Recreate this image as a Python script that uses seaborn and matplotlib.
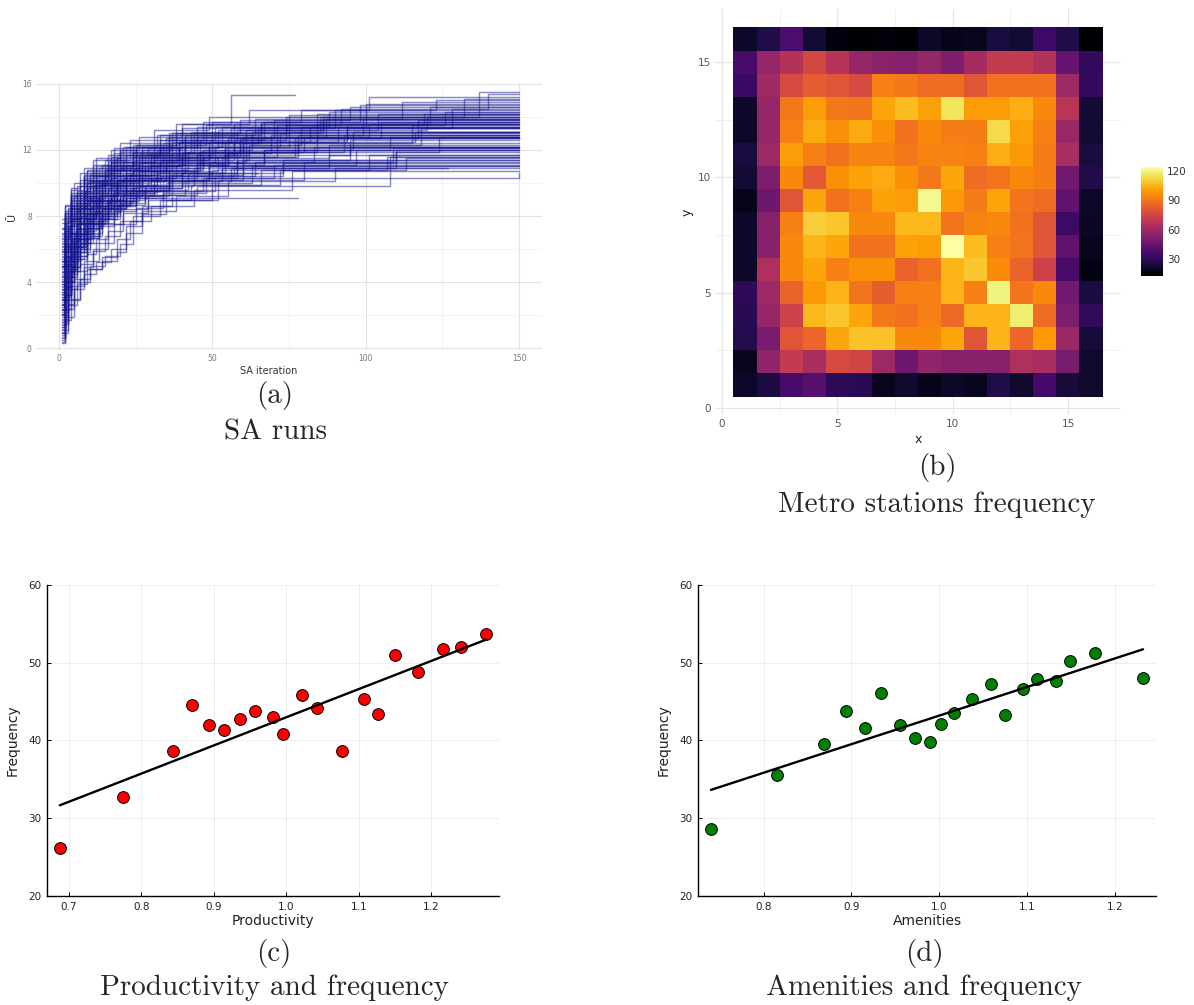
import numpy as np
import pandas as pd
import matplotlib
matplotlib.use("Agg")
import matplotlib.pyplot as plt
import seaborn as sns

# ---------------- data ----------------
# (a) SA runs: best-so-far utility, step points (iteration, value); last point = end of run
sa_runs = [
    [[1,0.5],[2,2.8],[3,4.6],[5,6.2],[8,7.9],[14,9.4],[22,10.6],[41,11.8],[78,12.9],[150,12.9]],
    [[1,2.1],[2,4.0],[4,5.9],[6,7.3],[11,8.8],[19,10.1],[33,11.2],[60,12.4],[115,13.5],[150,13.5]],
    [[1,3.4],[2,5.2],[3,6.6],[7,8.1],[12,9.7],[25,10.9],[47,12.0],[96,13.1],[150,13.1]],
    [[1,1.2],[2,3.1],[4,4.9],[7,6.4],[10,7.6],[16,8.9],[24,9.8],[44,10.9],[88,11.7],[150,11.7]],
    [[1,4.6],[2,6.3],[4,7.9],[8,9.5],[15,10.8],[29,12.1],[52,13.2],[104,14.2],[150,14.2]],
    [[1,2.7],[2,4.4],[3,5.6],[5,6.9],[9,8.2],[18,9.5],[30,10.3],[58,11.2],[150,11.2]],
    [[1,5.8],[2,7.1],[4,8.6],[9,10.1],[16,11.3],[31,12.4],[66,13.6],[121,14.6],[150,14.6]],
    [[1,0.9],[2,2.3],[3,3.8],[5,5.4],[8,6.8],[13,8.0],[20,9.1],[35,10.0],[63,11.0],[150,11.0]],
    [[1,3.9],[2,5.6],[3,6.8],[6,8.3],[13,9.9],[23,11.0],[39,12.2],[72,13.0],[150,13.0]],
    [[1,6.4],[2,7.8],[5,9.2],[10,10.6],[20,11.9],[43,13.1],[85,14.0],[132,15.1],[150,15.1]],
    [[1,2.4],[2,3.7],[3,5.1],[6,6.6],[11,8.0],[17,9.2],[27,10.2],[49,11.0],[70,11.0]],
    [[1,4.2],[2,5.9],[4,7.2],[7,8.7],[14,10.2],[26,11.5],[55,12.7],[150,12.7]],
    [[1,1.6],[2,3.3],[4,5.0],[6,6.3],[9,7.5],[15,8.6],[23,9.5],[37,10.4],[64,11.3],[109,12.1],[150,12.1]],
    [[1,7.2],[2,8.3],[4,9.6],[8,10.9],[18,12.1],[40,13.3],[90,14.4],[150,14.4]],
    [[1,3.0],[2,4.8],[4,6.5],[7,7.9],[12,9.0],[21,10.3],[34,11.4],[57,12.5],[84,13.6],[150,13.6]],
    [[1,5.1],[2,6.7],[3,7.7],[6,9.0],[12,10.4],[24,11.6],[45,12.8],[150,12.8]],
    [[1,0.3],[2,1.9],[3,3.5],[4,4.8],[6,6.0],[9,7.3],[14,8.5],[22,9.6],[36,10.5],[60,11.4],[150,11.4]],
    [[1,2.9],[2,4.5],[3,5.8],[6,7.6],[10,8.9],[18,10.0],[30,11.1],[55,11.8],[58,11.8]],
    [[1,4.9],[2,6.1],[4,7.5],[8,9.1],[15,10.5],[28,11.7],[50,12.9],[99,13.9],[150,13.9]],
    [[1,6.9],[2,8.0],[4,9.3],[9,10.7],[20,12.0],[37,13.0],[75,14.1],[150,14.1]],
    [[1,1.9],[2,3.6],[3,4.7],[5,6.1],[8,7.4],[14,8.4],[21,9.3],[26,9.3]],
    [[1,3.6],[2,5.3],[4,6.9],[7,8.4],[11,9.6],[22,10.8],[42,11.9],[80,12.8],[150,12.8]],
    [[1,5.5],[2,6.9],[3,8.0],[6,9.4],[13,10.9],[27,12.2],[53,13.4],[100,14.8],[150,14.8]],
    [[1,2.2],[2,3.9],[3,5.3],[5,6.7],[9,7.8],[16,9.0],[28,9.9],[50,10.8],[107,11.6],[150,11.6]],
    [[1,4.4],[2,6.0],[4,7.6],[9,8.9],[17,10.3],[31,11.4],[62,12.3],[118,13.3],[150,13.3]],
    [[1,0.7],[2,2.6],[3,4.1],[5,5.7],[7,6.9],[11,8.1],[19,9.4],[32,10.6],[54,11.7],[95,12.6],[150,12.6]],
    [[1,6.1],[2,7.4],[4,8.8],[8,10.2],[17,11.6],[35,12.7],[70,13.8],[150,13.8]],
    [[1,3.2],[2,4.9],[3,6.2],[6,7.7],[10,9.1],[19,10.4],[36,11.5],[52,11.5]],
    [[1,5.3],[2,7.0],[4,8.3],[7,9.8],[14,11.1],[25,12.3],[48,13.5],[92,14.5],[140,15.4],[150,15.4]],
    [[1,1.4],[2,3.0],[3,4.4],[5,5.8],[8,7.1],[12,8.2],[20,9.2],[34,10.1],[56,10.9],[110,11.9],[150,11.9]],
    [[1,2.6],[2,4.2],[4,5.7],[6,7.0],[10,8.5],[17,9.8],[29,10.9],[46,11.9],[68,11.9]],
    [[1,4.0],[2,5.7],[3,7.0],[6,8.5],[11,9.9],[21,11.3],[38,12.4],[71,13.5],[126,14.3],[150,14.3]],
    [[1,7.6],[2,8.7],[5,10.0],[11,11.4],[23,12.6],[47,13.7],[98,14.7],[150,14.7]],
    [[1,2.0],[2,3.4],[4,5.2],[6,6.5],[9,7.7],[15,8.8],[24,9.7],[40,10.6],[73,11.4],[150,11.4]],
    [[1,3.7],[2,5.5],[4,7.1],[8,8.6],[14,10.0],[26,11.3],[51,12.2],[150,12.2]],
    [[1,5.0],[2,6.4],[3,7.4],[5,8.7],[10,10.1],[19,11.5],[36,12.6],[67,13.7],[150,13.7]],
    [[1,0.4],[2,2.0],[3,3.2],[4,4.5],[6,5.6],[9,6.7],[13,7.8],[19,8.7],[28,9.5],[47,10.3],[150,10.6]],
    [[1,6.6],[2,7.7],[4,9.0],[8,10.4],[16,11.7],[33,12.9],[64,13.9],[112,14.9],[150,14.9]],
    [[1,2.5],[2,4.1],[3,5.4],[5,6.8],[8,8.0],[13,9.3],[22,10.5],[40,11.6],[77,12.7],[150,12.7]],
    [[1,4.7],[2,6.2],[4,7.8],[7,9.2],[12,10.6],[24,11.8],[44,13.0],[86,13.9],[150,13.9]],
    [[1,1.0],[2,2.5],[3,4.0],[5,5.5],[7,6.6],[10,7.7],[16,8.7],[25,9.3],[45,9.8],[108,11.6],[150,11.6]],
    [[1,3.3],[2,5.0],[4,6.6],[7,8.0],[12,9.4],[20,10.7],[37,11.8],[69,12.9],[150,12.9]],
    [[1,5.7],[2,7.2],[4,8.5],[9,10.0],[18,11.4],[39,12.5],[82,13.4],[150,13.4]],
    [[1,2.3],[2,3.8],[3,5.0],[5,6.4],[9,7.6],[14,8.7],[23,9.6],[42,10.6],[65,10.6]],
    [[1,4.3],[2,5.8],[3,7.0],[6,8.4],[11,9.8],[22,11.1],[41,12.3],[79,13.4],[150,13.4]],
    [[1,6.3],[2,7.6],[4,8.9],[8,10.3],[19,11.7],[41,12.8],[87,13.9],[150,13.9]],
    [[1,1.7],[2,3.2],[4,4.8],[6,6.2],[9,7.3],[14,8.4],[22,9.1],[78,9.1]],
    [[1,3.8],[2,5.4],[4,6.7],[7,8.2],[13,9.5],[24,10.7],[46,11.9],[93,12.9],[150,12.9]],
    [[1,5.2],[2,6.6],[4,8.0],[8,9.4],[16,10.8],[32,12.0],[63,13.1],[150,13.1]],
    [[1,2.8],[2,4.3],[3,5.5],[5,6.9],[8,8.1],[12,9.2],[19,10.2],[32,11.0],[58,11.9],[124,12.8],[150,12.8]],
    [[1,4.5],[2,6.1],[4,7.4],[7,8.8],[13,10.1],[25,11.4],[49,12.5],[94,13.6],[150,13.6]],
    [[1,7.0],[2,8.1],[4,9.4],[9,10.8],[21,12.2],[45,13.4],[88,14.3],[150,14.3]],
    [[1,1.3],[2,2.9],[3,4.3],[5,5.9],[7,7.0],[11,8.3],[17,9.3],[27,10.2],[49,11.0],[150,11.0]],
    [[1,3.1],[2,4.7],[4,6.3],[6,7.5],[11,8.9],[19,10.2],[35,11.3],[61,12.2],[150,12.2]],
    [[1,5.9],[2,7.3],[4,8.6],[9,10.0],[17,11.2],[34,12.4],[65,13.3],[128,14.5],[150,14.5]],
    [[1,2.1],[2,3.6],[3,5.0],[5,6.4],[8,7.5],[13,8.6],[21,9.5],[36,10.4],[57,10.9],[127,10.9]],
    [[1,4.1],[2,5.6],[4,7.0],[7,8.5],[14,9.9],[27,11.2],[54,12.1],[150,12.1]],
    [[1,6.0],[2,7.5],[3,8.4],[6,9.8],[12,11.0],[24,12.3],[38,13.6],[56,15.3],[77,15.3]],
    [[1,3.5],[2,5.1],[4,6.4],[6,7.8],[10,9.2],[18,10.5],[31,11.7],[57,12.7],[105,13.7],[150,13.7]],
    [[1,0.6],[2,2.2],[3,3.7],[4,4.9],[6,6.1],[9,7.2],[13,8.3],[20,9.3],[31,10.1],[48,10.1]],
    [[1,4.8],[2,6.3],[4,7.7],[8,9.0],[15,10.4],[30,11.6],[59,12.7],[117,13.8],[150,13.8]],
    [[1,2.4],[2,4.0],[3,5.3],[5,6.6],[8,7.8],[12,9.0],[20,10.1],[35,11.1],[67,12.0],[150,12.0]],
    [[1,6.8],[2,7.9],[4,9.1],[8,10.5],[18,11.8],[36,13.0],[74,14.0],[137,15.5],[150,15.5]],
    [[1,3.0],[2,4.6],[4,6.0],[6,7.2],[10,8.6],[16,9.7],[26,10.7],[45,11.7],[62,11.7]],
    [[1,5.4],[2,6.8],[4,8.2],[9,9.7],[17,11.0],[33,12.2],[61,13.2],[120,14.0],[150,14.0]],
    [[1,1.1],[3,2.4],[5,3.6],[8,4.5],[12,5.2],[17,6.0],[22,7.4],[27,8.3],[38,9.2],[55,10.1],[90,10.9],[150,10.9]],
    [[1,0.8],[2,1.7],[4,2.9],[7,4.2],[10,5.0],[15,5.6],[20,6.3],[24,8.0],[33,9.0],[52,10.2],[80,11.3],[150,11.3]],
    [[1,1.5],[3,2.6],[6,3.9],[9,4.8],[14,5.5],[19,6.6],[23,7.7],[30,8.6],[44,9.6],[76,10.7],[150,10.7]],
    [[1,2.0],[2,2.9],[4,4.0],[7,5.1],[11,6.0],[16,7.1],[21,8.2],[29,9.0],[43,9.9],[66,10.8],[101,11.7],[150,11.7]],
    [[1,3.3],[3,4.6],[5,5.6],[9,6.7],[13,7.6],[18,8.6],[25,9.5],[33,10.4],[49,11.3],[83,12.2],[150,12.2]],
    [[1,4.4],[2,5.3],[4,6.4],[6,7.5],[9,8.4],[13,9.3],[19,10.2],[28,11.0],[40,11.8],[59,12.6],[94,13.3],[150,13.3]],
    [[1,5.6],[2,6.5],[3,7.4],[5,8.3],[8,9.2],[12,10.0],[18,10.9],[26,11.7],[39,12.5],[58,13.2],[86,14.0],[150,14.0]],
    [[1,6.7],[2,7.6],[3,8.5],[6,9.5],[10,10.5],[15,11.4],[22,12.2],[32,12.9],[50,13.7],[79,14.4],[123,15.0],[150,15.0]],
    [[1,7.8],[2,8.6],[4,9.7],[7,10.6],[12,11.5],[20,12.4],[31,13.2],[49,14.0],[150,14.0]],
    [[1,2.9],[2,3.8],[4,4.9],[7,6.0],[10,7.0],[14,8.0],[19,8.9],[26,9.8],[37,10.6],[53,11.5],[88,12.3],[150,12.3]],
    [[1,1.8],[3,3.0],[5,4.2],[8,5.3],[13,6.4],[18,7.5],[25,8.5],[34,9.4],[48,10.3],[70,11.1],[150,11.1]],
    [[1,3.9],[2,4.8],[3,5.8],[5,6.8],[8,7.8],[12,8.8],[17,9.8],[24,10.7],[35,11.6],[54,12.5],[91,13.4],[150,13.4]],
    [[1,5.0],[2,6.0],[4,7.0],[6,8.0],[9,9.0],[14,10.0],[20,10.9],[30,11.8],[46,12.6],[74,13.5],[119,14.2],[150,14.2]],
    [[1,6.2],[2,7.1],[4,8.1],[7,9.1],[11,10.1],[16,11.0],[24,11.9],[36,12.8],[57,13.6],[150,13.6]],
    [[1,2.3],[2,3.2],[4,4.3],[6,5.4],[9,6.4],[13,7.4],[18,8.3],[25,9.2],[36,10.1],[53,10.9],[60,10.9]],
    [[1,3.6],[2,4.5],[4,5.5],[6,6.6],[9,7.6],[13,8.5],[18,9.4],[26,10.3],[38,11.1],[55,11.9],[84,12.7],[150,12.7]],
    [[1,4.9],[2,5.9],[3,6.9],[5,7.9],[8,8.9],[12,9.9],[17,10.8],[25,11.7],[37,12.5],[56,13.3],[150,13.3]],
    [[1,0.9],[3,1.9],[5,3.0],[7,4.0],[10,4.8],[14,5.3],[19,5.8],[22,7.0],[27,8.1],[35,9.0],[50,9.9],[72,10.8],[113,11.5],[150,11.5]],
    [[1,7.3],[2,8.2],[4,9.2],[7,10.2],[11,11.1],[17,12.0],[26,12.8],[40,13.6],[62,14.4],[101,15.2],[150,15.2]],
    [[1,1.3],[2,2.4],[4,3.6],[6,4.7],[9,5.7],[12,6.6],[16,7.5],[21,8.4],[29,9.3],[41,10.2],[60,11.1],[97,12.0],[150,12.0]],
    [[1,2.6],[2,3.6],[4,4.7],[6,5.8],[9,6.9],[13,7.9],[18,8.9],[25,9.8],[36,10.7],[52,11.6],[78,12.4],[150,12.4]],
    [[1,4.1],[2,5.1],[4,6.1],[6,7.2],[9,8.2],[13,9.2],[19,10.1],[27,11.0],[40,11.9],[60,12.8],[101,13.6],[150,13.6]],
    [[1,5.9],[2,6.8],[4,7.8],[6,8.8],[10,9.8],[15,10.8],[22,11.7],[33,12.6],[51,13.4],[84,14.2],[150,14.2]],
    [[1,3.1],[2,4.0],[3,5.0],[5,6.1],[8,7.1],[11,8.1],[16,9.0],[22,9.9],[32,10.8],[47,11.6],[71,12.5],[116,13.1],[150,13.1]],
    [[1,1.6],[3,2.7],[5,3.8],[8,4.9],[11,5.9],[15,6.8],[20,7.7],[27,8.6],[37,9.5],[51,10.4],[73,11.2],[110,12.0],[150,12.0]],
    [[1,6.5],[2,7.4],[4,8.4],[7,9.4],[11,10.4],[17,11.3],[25,12.2],[38,13.0],[59,13.8],[95,14.6],[150,14.6]],
    [[1,2.7],[2,3.7],[4,4.7],[7,5.8],[10,6.8],[14,7.8],[20,8.8],[28,9.7],[40,10.6],[58,11.4],[95,12.2],[150,12.2]],
    [[1,4.6],[2,5.5],[4,6.5],[7,7.6],[11,8.6],[16,9.6],[23,10.5],[33,11.4],[49,12.2],[75,13.1],[150,13.1]],
    [[1,3.4],[2,4.3],[4,5.3],[7,6.4],[11,7.5],[16,8.5],[22,9.4],[31,10.3],[45,11.2],[67,12.0],[108,12.8],[150,12.8]],
    [[1,5.3],[2,6.2],[3,7.2],[5,8.2],[8,9.2],[12,10.2],[18,11.1],[27,12.0],[41,12.9],[66,13.7],[150,13.7]],
]

# (b) metro station frequency, rows from y=16 (top) down to y=1, columns x=1..16
heat_rows = [
    [21, 27, 38, 23, 16, 13, 15, 13, 21, 18, 19, 25, 23, 34, 27, 13],
    [37, 58, 66, 76, 67, 58, 55, 54, 58, 52, 62, 71, 71, 66, 45, 31],
    [33, 61, 77, 83, 81, 77, 93, 91, 88, 88, 81, 89, 89, 89, 60, 32],
    [21, 58, 91, 100, 91, 90, 102, 107, 101, 116, 100, 100, 104, 95, 68, 23],
    [21, 58, 93, 103, 97, 103, 97, 89, 95, 92, 92, 114, 101, 93, 59, 23],
    [25, 60, 100, 93, 89, 94, 94, 91, 94, 94, 93, 104, 99, 92, 63, 25],
    [23, 51, 95, 82, 97, 101, 103, 97, 91, 102, 88, 90, 95, 92, 48, 27],
    [18, 47, 81, 102, 89, 93, 101, 100, 121, 99, 92, 102, 90, 88, 43, 21],
    [21, 54, 93, 111, 109, 95, 95, 106, 106, 90, 94, 95, 89, 81, 34, 20],
    [21, 54, 95, 105, 102, 89, 89, 101, 100, 124, 107, 93, 90, 81, 43, 19],
    [21, 65, 95, 102, 93, 97, 97, 85, 89, 105, 109, 96, 85, 74, 37, 17],
    [30, 60, 85, 99, 105, 90, 84, 93, 93, 105, 93, 120, 90, 95, 48, 25],
    [29, 58, 74, 106, 109, 102, 91, 89, 93, 87, 105, 105, 118, 88, 51, 31],
    [28, 50, 81, 86, 102, 108, 108, 95, 95, 102, 81, 105, 86, 99, 59, 24],
    [19, 56, 71, 63, 77, 75, 60, 47, 57, 54, 54, 54, 65, 63, 50, 22],
    [21, 26, 37, 41, 30, 29, 19, 22, 18, 21, 19, 27, 22, 36, 24, 22],
]
heat_ticks = [0, 5, 10, 15]
cbar_ticks = [30, 60, 90, 120]

# (c) productivity vs frequency
prod_x = [0.6876, 0.7748, 0.8440, 0.8702, 0.8936, 0.9147, 0.9358, 0.9569, 0.9821, 0.9959,
          1.0216, 1.0427, 1.0775, 1.1069, 1.1261, 1.1500, 1.1812, 1.2165, 1.2404, 1.2757]
prod_y = [26.17, 32.78, 38.61, 44.61, 41.95, 41.31, 42.77, 43.84, 42.98, 40.79,
          45.81, 44.18, 38.69, 45.29, 43.37, 51.00, 48.81, 51.77, 52.07, 53.65]

# (d) amenities vs frequency
amen_x = [0.7402, 0.8148, 0.8689, 0.8936, 0.9152, 0.9341, 0.9553, 0.9727, 0.9894, 1.0023,
          1.0170, 1.0375, 1.0587, 1.0750, 1.0951, 1.1114, 1.1330, 1.1492, 1.1773, 1.2318]
amen_y = [28.57, 35.52, 39.55, 43.79, 41.61, 46.07, 42.04, 40.28, 39.81, 42.16,
          43.54, 45.38, 47.22, 43.24, 46.67, 47.87, 47.61, 50.22, 51.21, 48.08]

freq_ticks = [20, 30, 40, 50, 60]
prod_ticks = [0.7, 0.8, 0.9, 1.0, 1.1, 1.2]
amen_ticks = [0.8, 0.9, 1.0, 1.1, 1.2]

captions = [("(a)", "SA runs"), ("(b)", "Metro stations frequency"),
            ("(c)", "Productivity and frequency"), ("(d)", "Amenities and frequency")]

# ---------------- figure ----------------
sns.set_theme(style="white")
plt.rcParams['font.family'] = ['DejaVu Sans']

W, H = 1194, 1005
fig = plt.figure(figsize=(W / 100, H / 100), dpi=100)


def rect(l, t, r, b):
    return [l / W, 1 - b / H, (r - l) / W, (b - t) / H]


# ---- (a) SA runs ----
ax_a = fig.add_axes(rect(36, 83, 542, 350))
rows = []
for k, run in enumerate(sa_runs):
    for it, val in run:
        rows.append((k, it, val))
df_a = pd.DataFrame(rows, columns=["run", "iter", "U"])
sns.lineplot(data=df_a, x="iter", y="U", units="run", estimator=None,
             color="#16168e", alpha=0.5, lw=1.05, drawstyle="steps-post",
             ax=ax_a, legend=False)
ax_a.set_xlim(-7.5, 157.5)
ax_a.set_ylim(-0.1, 16.05)
ax_a.set_xticks([0, 50, 100, 150])
ax_a.set_xticks([25, 75, 125], minor=True)
ax_a.set_yticks([0, 4, 8, 12, 16])
ax_a.set_yticks([2, 6, 10, 14], minor=True)
ax_a.grid(True, which="major", color="#e3e3e3", lw=0.8)
ax_a.grid(True, which="minor", color="#eeeeee", lw=0.5)
ax_a.set_axisbelow(True)
for s in ax_a.spines.values():
    s.set_visible(False)
ax_a.tick_params(which="both", length=0, labelsize=5.5, colors="#777777", pad=3)
ax_a.set_xlabel("SA iteration", fontsize=7, color="#333333", labelpad=1)
ax_a.xaxis.set_label_coords(0.46, -0.06)
ax_a.set_ylabel("Ū", fontsize=8, color="#333333", labelpad=4)

# ---- (b) heatmap ----
heat = np.array(heat_rows, dtype=float)
ax_b = fig.add_axes(rect(715, 9, 1121, 415))
cax = fig.add_axes(rect(1141, 167, 1163, 276))
sns.heatmap(heat, cmap="inferno", vmin=heat.min(), vmax=heat.max(), ax=ax_b,
            cbar_ax=cax, xticklabels=False, yticklabels=False)
n = heat.shape[0]
ax_b.set_xlim(-0.8, n + 0.8)
ax_b.set_ylim(n + 0.8, -0.8)
ax_b.set_xticks([t - 0.5 for t in heat_ticks])
ax_b.set_xticklabels([str(t) for t in heat_ticks])
ax_b.set_xticks([t + 2.0 for t in heat_ticks[:-1]], minor=True)
ax_b.set_yticks([n + 0.5 - t for t in heat_ticks])
ax_b.set_yticklabels([str(t) for t in heat_ticks])
ax_b.set_yticks([n + 0.5 - t - 2.5 for t in heat_ticks[:-1]], minor=True)
ax_b.grid(True, which="major", color="#e6e6e6", lw=0.9)
ax_b.grid(True, which="minor", color="#efefef", lw=0.6)
ax_b.set_axisbelow(True)
for s in ax_b.spines.values():
    s.set_visible(False)
ax_b.tick_params(which="both", length=0, labelsize=7.5, colors="#555555", pad=3,
                 bottom=False, left=False, labelbottom=True, labelleft=True)
ax_b.set_xlabel("x", fontsize=9, color="#222222", labelpad=3)
ax_b.set_ylabel("y", fontsize=9, color="#222222", labelpad=3)
cbar = ax_b.collections[0].colorbar
cbar.set_ticks(cbar_ticks)
cbar.outline.set_visible(False)
cax.tick_params(axis="y", direction="in", color="white", length=3, width=0.8,
                left=True, right=True, labelsize=7.5, labelcolor="#333333", pad=3)

# ---- (c) and (d) scatter with fit ----
def scatter_panel(ax, xs, ys, color, xticks, xlabel):
    sns.scatterplot(x=xs, y=ys, color=color, edgecolor="black", linewidth=0.7,
                    s=72, ax=ax, zorder=2, legend=False)
    sns.regplot(x=xs, y=ys, ci=None, scatter=False, color="black",
                line_kws=dict(lw=1.7, zorder=3), ax=ax)
    span = max(xs) - min(xs)
    ax.set_xlim(min(xs) - 0.03 * span, max(xs) + 0.03 * span)
    ax.set_ylim(freq_ticks[0], freq_ticks[-1])
    ax.set_xticks(xticks)
    ax.set_xticklabels([f"{t:.1f}" for t in xticks])
    ax.set_yticks(freq_ticks)
    ax.grid(True, color="black", alpha=0.08, lw=0.6)
    ax.set_axisbelow(True)
    for side in ["top", "right"]:
        ax.spines[side].set_visible(False)
    for side in ["left", "bottom"]:
        ax.spines[side].set_color("black")
        ax.spines[side].set_linewidth(1.0)
    ax.tick_params(direction="in", length=3, width=0.7, colors="black",
                   labelsize=7.5, labelcolor="#222222", pad=4,
                   bottom=True, left=True)
    ax.set_xlabel(xlabel, fontsize=10, color="#222222", labelpad=2)
    ax.set_ylabel("Frequency", fontsize=10, color="#222222", labelpad=6)


ax_c = fig.add_axes(rect(47, 585, 499, 896))
scatter_panel(ax_c, prod_x, prod_y, "#ff0000", prod_ticks, "Productivity")
ax_d = fig.add_axes(rect(698, 585, 1156, 896))
scatter_panel(ax_d, amen_x, amen_y, "#008000", amen_ticks, "Amenities")

# ---- captions ----
cap_pos = [(275, 395, 432), (937, 467, 505), (274, 953, 988), (924, 953, 988)]
for (lab, title), (cx, y1, y2) in zip(captions, cap_pos):
    fig.text(cx / W, 1 - y1 / H, lab, ha="center", va="center",
             fontsize=21, family="cmr10")
    fig.text(cx / W, 1 - y2 / H, title, ha="center", va="center",
             fontsize=21, family="cmr10")

fig.savefig("out.png", dpi=100)
